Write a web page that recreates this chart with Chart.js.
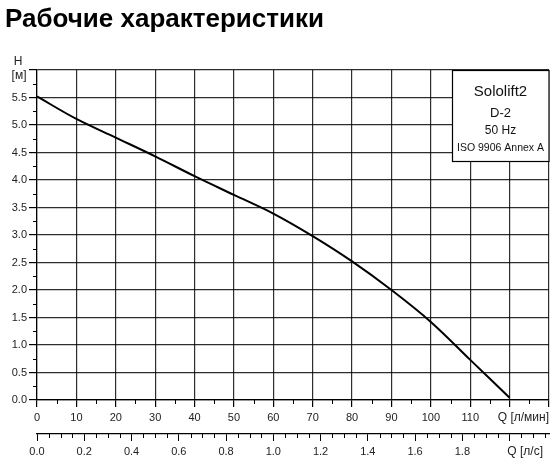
<!DOCTYPE html>
<html>
<head>
<meta charset="utf-8">
<script src="https://cdn.jsdelivr.net/npm/chart.js@4.4.1/dist/chart.umd.min.js"></script>
<style>
  html, body { margin: 0; padding: 0; background: #fff; }
  #wrap { width: 554px; height: 465px; position: relative; }
</style>
</head>
<body>
<div id="wrap"><canvas id="pumpChart" width="554" height="465"></canvas></div>
<script>
// Pump curve
const flowLpm = [0, 10, 20, 30, 40, 50, 60, 70, 80, 90, 100, 110, 120];
const headM   = [5.52, 5.11, 4.77, 4.43, 4.07, 3.73, 3.39, 2.98, 2.52, 2.00, 1.42, 0.73, 0.04];

// Axis ranges and tick steps
const qMaxLpm = 130;
const hMax = 6;
const qMajorStep = 10, qMinorStep = 5;
const hMajorStep = 0.5, hMinorStep = 0.25;
const qsMajorStep = 0.2, qsMinorStep = 0.05;
const hiddenQLabels = [120, 130];
const hiddenQsLabels = [2.0];

// Texts
const chartTitle = 'Рабочие характеристики';
const infoLines = ['Sololift2', 'D-2', '50 Hz', 'ISO 9906 Annex A'];

const FONT = '"Liberation Sans", Arial, sans-serif';
const gridColor = 'rgba(0,0,0,0.82)';

// draws title, axis captions, info box and the short minor ticks
const decorPlugin = {
  id: 'decor',
  afterDraw(chart) {
    const ctx = chart.ctx;
    const area = chart.chartArea;
    const sx = chart.scales.x, sy = chart.scales.y, sq = chart.scales.xs;
    ctx.save();

    // minor ticks
    ctx.strokeStyle = '#000';
    ctx.lineWidth = 1;
    ctx.beginPath();
    for (let v = qMinorStep; v < qMaxLpm; v += qMajorStep) {
      const px = Math.round(sx.getPixelForValue(v)) + 0.5;
      ctx.moveTo(px, area.bottom); ctx.lineTo(px, area.bottom + 4);
    }
    for (let v = hMinorStep; v < hMax; v += hMajorStep) {
      const py = Math.round(sy.getPixelForValue(v)) + 0.5;
      ctx.moveTo(area.left - 4, py); ctx.lineTo(area.left, py);
    }
    for (let i = 1; i * qsMinorStep < sq.max; i++) {
      if (i % 4 === 0) continue;
      const px = Math.round(sq.getPixelForValue(i * qsMinorStep)) + 0.5;
      ctx.moveTo(px, sq.top); ctx.lineTo(px, sq.top + 4);
    }
    ctx.stroke();

    // title
    ctx.fillStyle = '#000';
    ctx.font = 'bold 26px ' + FONT;
    ctx.textAlign = 'left';
    ctx.textBaseline = 'alphabetic';
    ctx.fillText(chartTitle, 5, 27);

    // axis captions
    ctx.fillStyle = '#222';
    ctx.font = '12px ' + FONT;
    ctx.textAlign = 'center';
    ctx.textBaseline = 'middle';
    ctx.fillText('H', 18, area.top - 8);
    ctx.fillText('[м]', 19, area.top + 6);
    ctx.font = '12px ' + FONT;
    ctx.textAlign = 'right';
    ctx.fillText('Q [л/мин]', area.right, sx.top + 18);
    ctx.fillText('Q [л/с]', area.right - 6, sq.top + 18);

    // info box
    const bw = 97, bh = 91;
    const bx = area.right - bw, by = area.top;
    ctx.fillStyle = '#fff';
    ctx.fillRect(bx, by, bw, bh);
    ctx.strokeStyle = '#000';
    ctx.lineWidth = 1.2;
    ctx.strokeRect(bx + 0.5, by + 0.5, bw - 0.5, bh);
    ctx.fillStyle = '#111';
    ctx.textAlign = 'center';
    const cx = bx + bw / 2;
    ctx.font = '15px ' + FONT; ctx.fillText(infoLines[0], cx, by + 22);
    ctx.font = '13px ' + FONT; ctx.fillText(infoLines[1], cx, by + 43);
    ctx.font = '12px ' + FONT; ctx.fillText(infoLines[2], cx, by + 61);
    ctx.font = '10.5px ' + FONT; ctx.fillText(infoLines[3], cx, by + 78);

    ctx.restore();
  }
};

new Chart(document.getElementById('pumpChart'), {
  type: 'line',
  data: {
    datasets: [{
      data: flowLpm.map((q, i) => ({ x: q, y: headM[i] })),
      borderColor: '#000',
      borderWidth: 2,
      pointRadius: 0,
      tension: 0.35,
      xAxisID: 'x',
      yAxisID: 'y'
    }]
  },
  options: {
    responsive: false,
    animation: false,
    events: [],
    layout: { padding: { top: 70, right: 5, left: 0, bottom: 0 } },
    plugins: { legend: { display: false }, tooltip: { enabled: false } },
    scales: {
      x: {
        type: 'linear',
        position: 'bottom',
        min: 0, max: qMaxLpm,
        afterFit: s => { s.height = 34; },
        grid: { color: gridColor, lineWidth: 1.2, tickLength: 7, tickColor: '#000' },
        border: { color: '#000', width: 1.2 },
        ticks: {
          stepSize: qMajorStep,
          maxRotation: 0,
          autoSkip: false,
          padding: 4,
          color: '#222',
          font: { family: FONT, size: 11 },
          callback: v => hiddenQLabels.includes(v) ? '' : String(v)
        }
      },
      xs: {
        type: 'linear',
        position: 'bottom',
        min: 0, max: qMaxLpm / 60,
        afterFit: s => { s.height = 31; },
        grid: { drawOnChartArea: false, tickLength: 7, tickColor: '#000', lineWidth: 1 },
        border: { color: '#000', width: 1.2 },
        ticks: {
          stepSize: qsMajorStep,
          includeBounds: false,
          maxRotation: 0,
          autoSkip: false,
          padding: 4,
          color: '#222',
          font: { family: FONT, size: 11 },
          callback: v => hiddenQsLabels.some(h => Math.abs(h - v) < 1e-6) ? '' : v.toFixed(1)
        }
      },
      y: {
        type: 'linear',
        min: 0, max: hMax,
        afterFit: s => { s.width = 37; },
        grid: { color: gridColor, lineWidth: 1.2, tickLength: 8, tickColor: '#000' },
        border: { color: '#000', width: 1.2 },
        ticks: {
          stepSize: hMajorStep,
          autoSkip: false,
          padding: 2,
          color: '#222',
          font: { family: FONT, size: 11 },
          callback: v => v >= hMax ? '' : v.toFixed(1)
        }
      }
    }
  },
  plugins: [decorPlugin]
});
</script>
</body>
</html>
